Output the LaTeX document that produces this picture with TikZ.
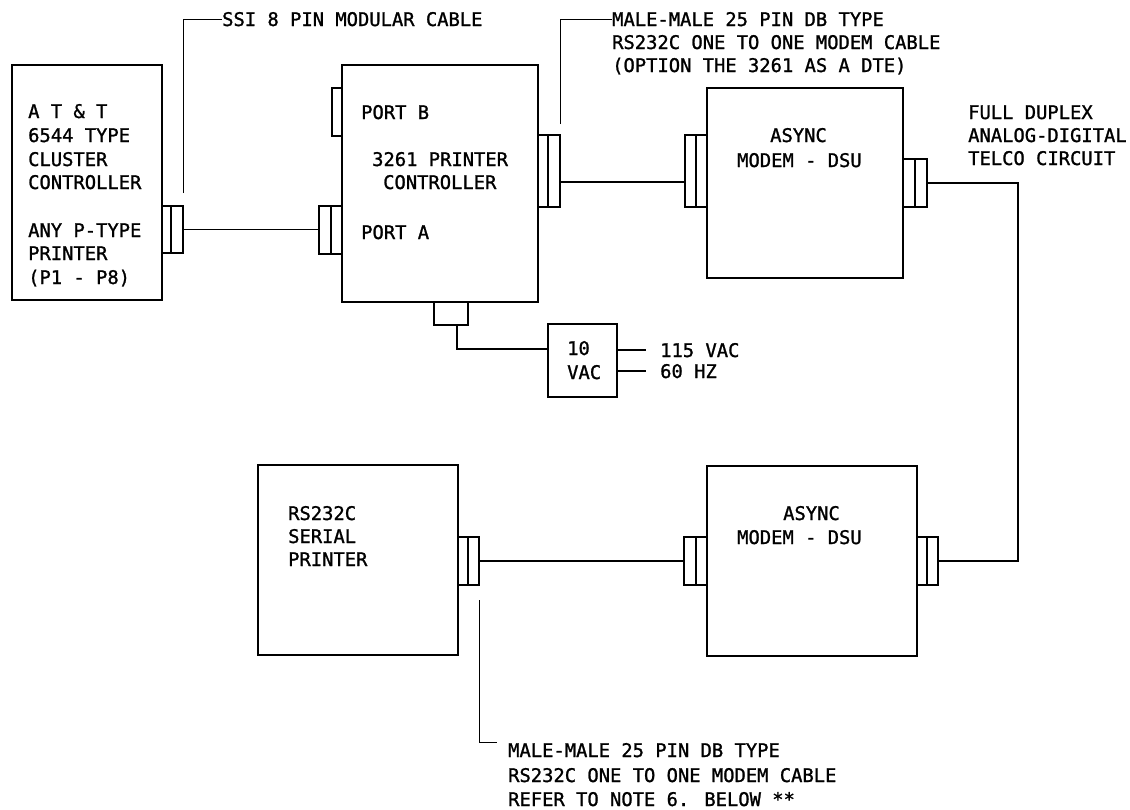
\documentclass[tikz,border=0pt]{standalone}
\usepackage{fontspec}
\newfontfamily\plotfont[FakeBold=1.2]{DejaVu Sans Mono}
\begin{document}
\begin{tikzpicture}[x=1pt,y=-1pt,
  box/.style={draw, line width=2.6pt, inner sep=0pt, outer sep=0pt, anchor=north west},
  plug/.style={draw, line width=1.2pt, inner sep=0pt, outer sep=0pt, anchor=north west},
  wire/.style={line width=1.2pt},
  lead/.style={line width=1pt},
  lbl/.style={font=\plotfont\fontsize{18.8}{22}\selectfont, inner sep=0pt, anchor=base west}]
\useasboundingbox (0,0) rectangle (1130,809);

% main boxes
\node[box, minimum width=150pt, minimum height=235pt] (att) at (12,65) {};
\node[box, minimum width=196pt, minimum height=237pt] (ctl) at (342,65) {};
\node[box, minimum width=196pt, minimum height=190pt] (mtop) at (707,88) {};
\node[box, minimum width=210pt, minimum height=190pt] (mbot) at (707,466) {};
\node[box, minimum width=200pt, minimum height=190pt] (ser) at (258,465) {};
\node[plug, minimum width=69pt, minimum height=73pt] (xfm) at (548,324) {};

% plugs
\node[plug, minimum width=21pt, minimum height=47pt] (pa1) at (162,206) {};
\node[plug, minimum width=23pt, minimum height=48pt] (pa2) at (319,206) {};
\node[plug, minimum width=10pt, minimum height=48pt] (pb) at (332,88) {};
\node[plug, minimum width=22pt, minimum height=72pt] (pc) at (538,135) {};
\node[plug, minimum width=22pt, minimum height=72pt] (pm1) at (685,135) {};
\node[plug, minimum width=24pt, minimum height=48pt] (pm2) at (903,159) {};
\node[plug, minimum width=21pt, minimum height=48pt] (pm3) at (917,537) {};
\node[plug, minimum width=23pt, minimum height=48pt] (pm4) at (684,537) {};
\node[plug, minimum width=21pt, minimum height=48pt] (ps) at (458,537) {};
\node[plug, minimum width=34pt, minimum height=23pt] (pw) at (434,302) {};

% plug dividers
\draw[wire] ([xshift=9pt]pa1.north west) -- ([xshift=9pt]pa1.south west);
\draw[wire] ([xshift=12pt]pa2.north west) -- ([xshift=12pt]pa2.south west);
\draw[wire] ([xshift=10pt]pc.north west) -- ([xshift=10pt]pc.south west);
\draw[wire] ([xshift=11pt]pm1.north west) -- ([xshift=11pt]pm1.south west);
\draw[wire] ([xshift=12pt]pm2.north west) -- ([xshift=12pt]pm2.south west);
\draw[wire] ([xshift=10pt]pm3.north west) -- ([xshift=10pt]pm3.south west);
\draw[wire] ([xshift=12pt]pm4.north west) -- ([xshift=12pt]pm4.south west);
\draw[wire] ([xshift=10pt]ps.north west) -- ([xshift=10pt]ps.south west);

% labels in boxes
\node[lbl] (t1) at (28,118) {A T \& T};
\node[lbl] (t2) at (28,142) {6544 TYPE};
\node[lbl] (t3) at (28,166) {CLUSTER};
\node[lbl] (t4) at (28,189) {CONTROLLER};
\node[lbl] (t5) at (28,237) {ANY P-TYPE};
\node[lbl] (t6) at (28,260) {PRINTER};
\node[lbl] (t7) at (28,284) {(P1 - P8)};

\node[lbl] (portb) at (361,119) {PORT B};
\node[lbl] (c1) at (372,166) {3261 PRINTER};
\node[lbl] (c2) at (383,189) {CONTROLLER};
\node[lbl] (porta) at (361,239) {PORT A};

\node[lbl] (ma1) at (770,142) {ASYNC};
\node[lbl] (ma2) at (737,167) {MODEM - DSU};
\node[lbl] (mb1) at (783,520) {ASYNC};
\node[lbl] (mb2) at (737,544) {MODEM - DSU};

\node[lbl] (s1) at (288,520) {RS232C};
\node[lbl] (s2) at (288,543) {SERIAL};
\node[lbl] (s3) at (288,566) {PRINTER};

\node[lbl] (x1) at (567,355) {10};
\node[lbl] (x2) at (567,379) {VAC};
\node[lbl] (v1) at (660,357) {115 VAC};
\node[lbl] (v2) at (660,378) {60 HZ};

\node[lbl] (f1) at (968,119) {FULL DUPLEX};
\node[lbl] (f2) at (968,142) {ANALOG-DIGITAL};
\node[lbl] (f3) at (968,165) {TELCO CIRCUIT};

\node[lbl] (ssi) at (222,26) {SSI 8 PIN MODULAR CABLE};
\node[lbl] (mm1) at (612,26) {MALE-MALE 25 PIN DB TYPE};
\node[lbl] (mm2) at (612,49) {RS232C ONE TO ONE MODEM CABLE};
\node[lbl] (mm3) at (612,72) {(OPTION THE 3261 AS A DTE)};
\node[lbl] (nb1) at (508,757) {MALE-MALE 25 PIN DB TYPE};
\node[lbl] (nb2) at (508,782) {RS232C ONE TO ONE MODEM CABLE};
\node[lbl] (nb3) at (508,806) {REFER TO NOTE 6. BELOW **};

% cables
\coordinate (k1) at (0,182);
\coordinate (k2) at (0,349);
\coordinate (tx) at (1018,0);
\draw[wire] (pa1.east) -- (pa1.east -| pa2.west);
\draw[wire] (pc.east |- k1) -- (pm1.west |- k1);
\draw[wire] (pm2.east) -- (pm2.east -| tx) -- (pm3.east -| tx) -- (pm3.east);
\draw[wire] (ps.east) -- (pm4.west);
\draw[wire] ([xshift=6pt]pw.south) -- ([xshift=6pt]pw.south |- k2) -- (xfm.west |- k2);
\coordinate (ac1) at (646,350);
\coordinate (ac2) at (646,371);
\draw[wire] (xfm.east |- ac1) -- (ac1);
\draw[wire] (xfm.east |- ac2) -- (ac2);

% leaders
\draw[lead] ([yshift=13pt]pa1.north east) -- (pa1.east |- ssi.west) -- (ssi.west);
\draw[lead] ([yshift=11pt]pc.north east) -- (pc.east |- mm1.west) -- (mm1.west);
\coordinate (nbe) at (497,742);
\draw[lead] ([yshift=-15pt]ps.south east) -- (ps.east |- nbe) -- (nbe);
\end{tikzpicture}
\end{document}
